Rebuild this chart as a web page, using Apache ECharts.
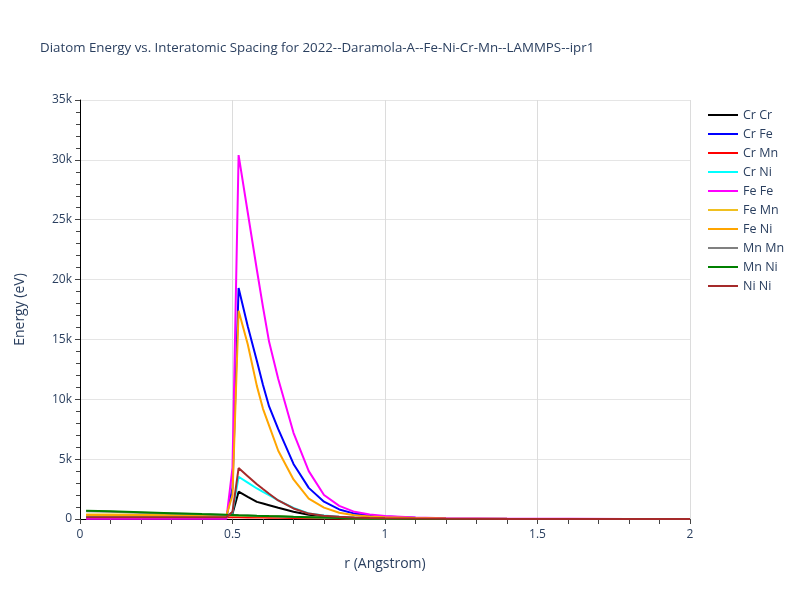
<!DOCTYPE html>
<html>
<head>
<meta charset="utf-8">
<script src="https://cdn.jsdelivr.net/npm/echarts@6/dist/echarts.min.js"></script>
<style>
  html, body { margin: 0; padding: 0; background: #fff; }
  #main { width: 800px; height: 600px; }
</style>
</head>
<body>
<div id="main"></div>
<script>
// r grid (Angstrom)
var rValues = [0.02, 0.1, 0.2, 0.3, 0.4, 0.48, 0.5, 0.52, 0.55, 0.58, 0.6, 0.62, 0.65, 0.7, 0.75, 0.8, 0.85, 0.9, 0.95, 1.0, 1.1, 1.2, 1.4, 1.6, 1.8, 2.0];

// energies (eV) per pair, same order as rValues
var crCr = [130, 130, 130, 130, 130, 130, 450, 2280, 1850, 1430, 1290, 1150, 940, 600, 360, 210, 130, 90, 65, 50, 30, 15, 8, 4, 2, 1];
var crFe = [120, 120, 120, 120, 120, 120, 2600, 19300, 16100, 13200, 11200, 9400, 7500, 4600, 2600, 1450, 800, 450, 300, 200, 100, 50, 20, 10, 5, 3];
var crMn = [170, 170, 165, 160, 155, 150, 145, 140, 130, 120, 115, 110, 100, 85, 70, 55, 45, 35, 25, 20, 10, 5, 2, 1, 0, 0];
var crNi = [150, 150, 150, 150, 150, 150, 550, 3530, 3040, 2550, 2270, 2000, 1560, 920, 470, 290, 185, 125, 90, 70, 40, 25, 10, 5, 3, 2];
var feFe = [20, 20, 20, 20, 20, 20, 4300, 30400, 25600, 20800, 17700, 14800, 11700, 7200, 4000, 2000, 1100, 600, 380, 250, 120, 70, 30, 15, 8, 5];
var feMn = [380, 370, 355, 340, 320, 300, 290, 280, 260, 240, 230, 220, 200, 170, 140, 110, 90, 70, 55, 40, 20, 10, 5, 2, 1, 0];
var feNi = [330, 320, 310, 300, 290, 280, 2000, 17400, 14600, 11100, 9200, 7800, 5700, 3300, 1700, 950, 520, 320, 210, 150, 80, 40, 20, 10, 5, 3];
var mnMn = [650, 600, 530, 460, 390, 335, 320, 305, 285, 260, 245, 230, 210, 175, 140, 105, 75, 45, 25, 10, 3, 0, 0, 0, 0, 0];
var mnNi = [690, 640, 570, 490, 410, 350, 335, 320, 300, 275, 260, 245, 225, 185, 150, 115, 80, 50, 30, 15, 5, 0, 0, 0, 0, 0];
var niNi = [150, 150, 150, 150, 150, 150, 600, 4250, 3580, 2900, 2500, 2110, 1550, 880, 450, 280, 180, 120, 90, 70, 40, 25, 10, 5, 3, 2];

var pairNames = ['Cr Cr', 'Cr Fe', 'Cr Mn', 'Cr Ni', 'Fe Fe', 'Fe Mn', 'Fe Ni', 'Mn Mn', 'Mn Ni', 'Ni Ni'];
var pairData = [crCr, crFe, crMn, crNi, feFe, feMn, feNi, mnMn, mnNi, niNi];
var pairColors = ['#000000', '#0000ff', '#ff0000', '#00ffff', '#ff00ff', '#f0c020', '#ffa500', '#808080', '#008000', '#a52a2a'];

var textColor = '#2a3f5f';
var font = '"Open Sans", Verdana, sans-serif';

var chart = echarts.init(document.getElementById('main'));

var series = pairNames.map(function(name, i) {
  return {
    name: name,
    type: 'line',
    symbol: 'none',
    color: pairColors[i],
    lineStyle: { width: 2 },
    data: rValues.map(function(r, j) { return [r, pairData[i][j]]; })
  };
});

var option = {
  animation: false,
  backgroundColor: '#fff',
  textStyle: { fontFamily: font },
  title: {
    text: 'Diatom Energy vs. Interatomic Spacing for 2022--Daramola-A--Fe-Ni-Cr-Mn--LAMMPS--ipr1',
    left: 35,
    top: 37,
    textStyle: { fontSize: 13.3, fontWeight: 'normal', color: textColor, fontFamily: font }
  },
  legend: {
    orient: 'vertical',
    left: 703,
    top: 103,
    icon: 'rect',
    itemWidth: 30,
    itemHeight: 2,
    itemGap: 5,
    textStyle: { fontSize: 12.5, lineHeight: 14, color: textColor, fontFamily: font },
    data: pairNames
  },
  grid: { left: 80, top: 100, width: 610, height: 419 },
  xAxis: {
    type: 'value',
    min: 0,
    max: 2,
    interval: 0.5,
    name: 'r (Angstrom)',
    nameLocation: 'middle',
    nameGap: 38,
    nameTextStyle: { fontSize: 14, color: textColor },
    axisLine: { show: true, onZero: false, lineStyle: { color: '#000', width: 1 } },
    axisTick: { show: true, length: 5, lineStyle: { color: '#444' } },
    minorTick: { show: true, splitNumber: 5, length: 5, lineStyle: { color: '#444' } },
    axisLabel: { fontSize: 12, color: textColor, margin: 10 },
    splitLine: { show: true, lineStyle: { color: '#dcdcdc', width: 1 } }
  },
  yAxis: {
    type: 'value',
    min: 0,
    max: 35000,
    interval: 5000,
    name: 'Energy (eV)',
    nameLocation: 'middle',
    nameGap: 53,
    nameTextStyle: { fontSize: 14, color: textColor },
    axisLine: { show: true, lineStyle: { color: '#000', width: 1 } },
    axisTick: { show: true, length: 5, lineStyle: { color: '#444' } },
    minorTick: { show: true, splitNumber: 5, length: 4, lineStyle: { color: '#444' } },
    axisLabel: {
      fontSize: 12,
      color: textColor,
      margin: 8,
      formatter: function(v) { return v === 0 ? '0' : (v / 1000) + 'k'; }
    },
    splitLine: { show: true, lineStyle: { color: '#e5e5e5', width: 1 } }
  },
  series: series
};

chart.setOption(option);
</script>
</body>
</html>
